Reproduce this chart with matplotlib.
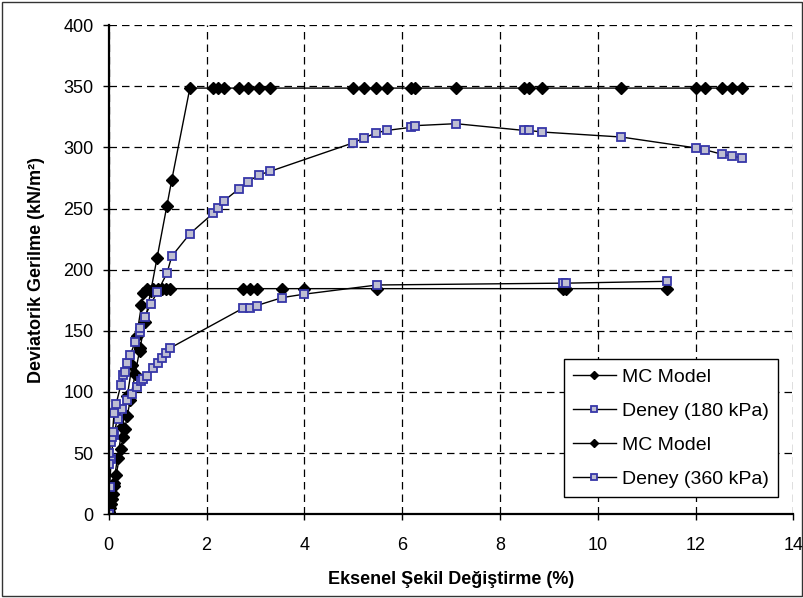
import matplotlib
matplotlib.use("Agg")
import matplotlib.pyplot as plt
from matplotlib.patches import Rectangle

plt.rcParams['font.family'] = ['Liberation Sans', 'DejaVu Sans']

# Test at 180 kPa: measured curve and Mohr-Coulomb prediction at the same strains
strain_180 = [0, 0.02, 0.05, 0.10, 0.18, 0.28, 0.38, 0.48, 0.57, 0.67, 0.71, 0.78,
              0.90, 1.00, 1.08, 1.17, 1.25, 2.75, 2.89, 3.03, 3.55, 4.00, 5.49,
              9.29, 9.36, 11.42]
test_180 = [0, 22, 45, 65, 78, 86, 93.5, 98.4, 104.4, 109.3, 110.7, 113.2,
            119.5, 123.6, 127.7, 131.7, 135.8, 168.6, 169.0, 170.7, 177.2, 180.0, 187.5,
            189.0, 189.0, 190.5]
mc_180 = [0, 5.1, 12.8, 25.5, 45.9, 71.4, 96.9, 122.4, 145.4, 170.9, 181.0, 184.5,
          184.5, 184.5, 184.5, 184.5, 184.5, 184.5, 184.5, 184.5, 184.5, 184.5, 184.5,
          184.5, 184.5, 184.5]

# Test at 360 kPa
strain_360 = [0, 0.01, 0.01, 0.04, 0.06, 0.08, 0.11, 0.15, 0.25, 0.30, 0.33, 0.38,
              0.44, 0.54, 0.63, 0.64, 0.74, 0.86, 0.99, 1.19, 1.29, 1.66, 2.14, 2.24,
              2.36, 2.66, 2.85, 3.08, 3.30, 4.99, 5.22, 5.46, 5.69, 6.18, 6.27, 7.10,
              8.49, 8.59, 8.86, 10.48, 12.02, 12.19, 12.55, 12.74, 12.96]
test_360 = [0, 41, 50, 59, 63.5, 67.6, 83, 90, 106, 114, 116, 124,
            130.4, 140.7, 149, 152, 161.7, 172, 181.4, 197, 211, 229.4, 246.3, 250.4,
            256.4, 266, 272, 277.7, 280.4, 303.6, 307.7, 311.8, 313.9, 316.4, 317.8, 319.4,
            313.9, 313.9, 312.6, 308.5, 299.5, 298.1, 294.3, 293.0, 291.3]
mc_360 = [0, 2.1, 2.1, 8.5, 12.7, 16.9, 23.3, 31.8, 53.0, 63.6, 70.0, 80.6,
          93.3, 114.5, 133.6, 135.7, 156.9, 182.3, 209.9, 252.3, 273.5, 348.5, 348.5, 348.5,
          348.5, 348.5, 348.5, 348.5, 348.5, 348.5, 348.5, 348.5, 348.5, 348.5, 348.5, 348.5,
          348.5, 348.5, 348.5, 348.5, 348.5, 348.5, 348.5, 348.5, 348.5]

x_ticks = [0, 2, 4, 6, 8, 10, 12, 14]
y_ticks = [0, 50, 100, 150, 200, 250, 300, 350, 400]

fig = plt.figure(figsize=(8.04, 5.98), dpi=100)
ax = fig.add_axes([0.1352, 0.140, 0.8515, 0.818])

mc_style = dict(color='black', lw=1.0, marker='D', markersize=6,
                markerfacecolor='black', markeredgecolor='black')
test_style = dict(color='black', lw=1.0, marker='s', markersize=5.5,
                  markerfacecolor='#BEBED2', markeredgecolor='#3636A8', markeredgewidth=1.3)

ax.plot(strain_180, mc_180, label='MC Model', zorder=3, **mc_style)
ax.plot(strain_180, test_180, label='Deney (180 kPa)', zorder=4, **test_style)
ax.plot(strain_360, mc_360, label='MC Model', zorder=3, **mc_style)
ax.plot(strain_360, test_360, label='Deney (360 kPa)', zorder=4, **test_style)

ax.set_xlim(0, 14)
ax.set_ylim(0, 400)
ax.set_xticks(x_ticks)
ax.set_yticks(y_ticks)
ax.grid(True, color='black', linestyle=(0, (6, 4)), linewidth=0.9)
ax.set_axisbelow(True)

for side in ('top', 'right'):
    ax.spines[side].set_visible(False)
for side in ('left', 'bottom'):
    ax.spines[side].set_linewidth(1.6)
    ax.spines[side].set_zorder(5)

ax.tick_params(axis='both', labelsize=13, width=1.0, length=4, direction='out')
ax.tick_params(axis='x', pad=12)
ax.tick_params(axis='y', pad=7)

ax.set_xlabel('Eksenel Şekil Değiştirme (%)', fontsize=13, fontweight='bold', va='center')
ax.set_ylabel('Deviatorik Gerilme (kN/m²)', fontsize=13, fontweight='bold', va='center')
ax.xaxis.set_label_coords(0.5, -0.134)
ax.yaxis.set_label_coords(-0.106, 0.5)

leg = ax.legend(loc='lower right', bbox_to_anchor=(0.9777, 0.0354), borderaxespad=0,
                fontsize=14, frameon=True, fancybox=False, edgecolor='black',
                framealpha=1.0, handlelength=2.2, handletextpad=0.35,
                labelspacing=0.85, borderpad=0.45, markerscale=0.7)
leg.get_frame().set_linewidth(1.0)
leg.set_zorder(6)

fig.add_artist(Rectangle((0.002, 0.003), 0.995, 0.993, transform=fig.transFigure,
                         fill=False, edgecolor='#333333', linewidth=1.0))

fig.savefig('out.png', dpi=100)
